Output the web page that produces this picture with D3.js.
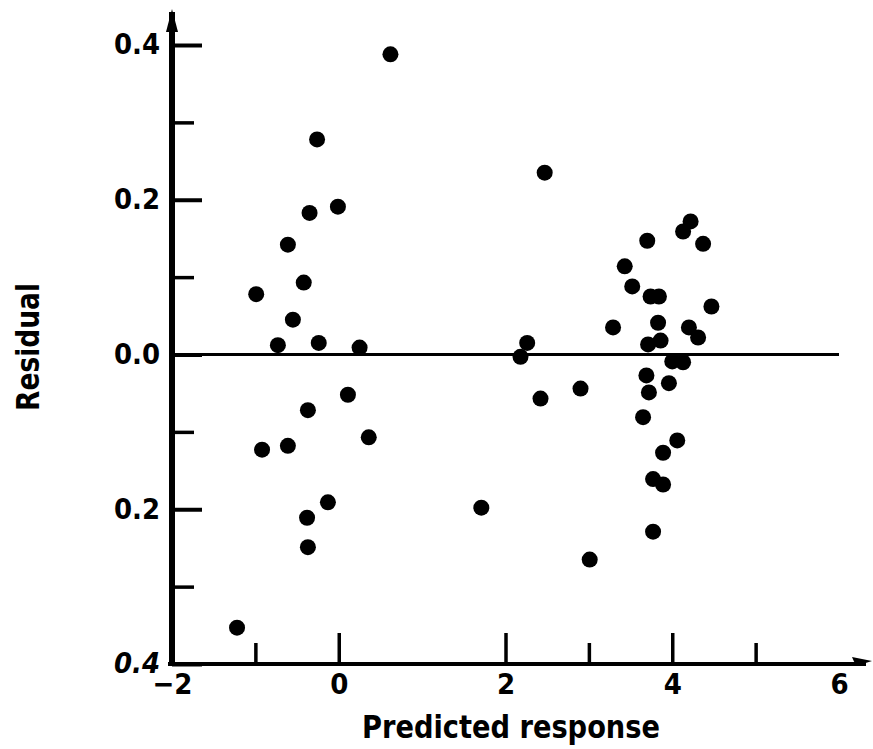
<!DOCTYPE html>
<html>
<head>
<meta charset="utf-8">
<script src="https://cdn.jsdelivr.net/npm/d3@7"></script>
<style>
  html, body { margin: 0; padding: 0; background: #fff; }
  svg { display: block; }
  text { font-family: "DejaVu Sans Condensed", "Liberation Sans Narrow", "DejaVu Sans", sans-serif; font-weight: bold; font-stretch: condensed; fill: #000; }
</style>
</head>
<body>
<svg id="chart" width="873" height="749"></svg>
<script>
// Predicted response (x) and residual (y) values
const predicted = [
  0.62, -0.26, -0.01, -0.35, -0.61, -0.42, -0.99, -0.55, -0.73, -0.24, 0.25,
  0.11, -0.37, 0.36, -0.92, -0.61, -0.13, -0.38, -0.37, -1.22,
  2.47, 4.22, 4.13, 3.70, 4.37, 3.43, 3.52, 3.74, 3.84, 4.47, 3.29, 3.83,
  4.20, 4.31, 3.86, 3.71, 2.26, 2.18, 4.00, 4.13, 3.69, 3.96, 2.90, 3.72,
  2.42, 3.65, 4.06, 3.89, 3.77, 3.89, 1.71, 3.77, 3.01
];
const residual = [
  0.388, 0.278, 0.191, 0.183, 0.142, 0.093, 0.078, 0.045, 0.012, 0.015, 0.009,
  -0.052, -0.072, -0.107, -0.123, -0.118, -0.191, -0.211, -0.249, -0.353,
  0.235, 0.172, 0.159, 0.147, 0.143, 0.114, 0.088, 0.075, 0.075, 0.062, 0.035, 0.041,
  0.035, 0.022, 0.018, 0.013, 0.015, -0.003, -0.009, -0.010, -0.027, -0.037, -0.044, -0.049,
  -0.057, -0.081, -0.111, -0.127, -0.161, -0.168, -0.198, -0.229, -0.265
];

const xLabelTicks = [-2, 0, 2, 4, 6];
const xLabels = ["\u22122", "0", "2", "4", "6"];
const xMajorMarks = [0, 2, 4];
const xMinorMarks = [-1, 3, 5];
const yMajorTicks = [0.4, 0.2, 0.0, -0.2, -0.4];
const yMajorLabels = ["0.4", "0.2", "0.0", "0.2", "0.4"];
const yMinorTicks = [0.3, 0.1, -0.1, -0.3];
const xTitle = "Predicted response";
const yTitle = "Residual";

const svg = d3.select("#chart");
const x = d3.scaleLinear().domain([-2, 6]).range([172, 839]);
const y = d3.scaleLinear().domain([-0.4, 0.4]).range([664, 45]);

// zero reference line
svg.append("line")
  .attr("x1", x(-2)).attr("x2", x(6))
  .attr("y1", y(0)).attr("y2", y(0))
  .attr("stroke", "#000").attr("stroke-width", 3);

// Y axis: major ticks with labels
const yMajor = svg.append("g").attr("transform", `translate(${x(-2)},0)`)
  .call(d3.axisLeft(y).tickValues(yMajorTicks).tickSize(-30).tickSizeOuter(0).tickPadding(12)
    .tickFormat((d, i) => yMajorLabels[i]));
yMajor.select(".domain").remove();
yMajor.selectAll(".tick line").attr("stroke", "#000").attr("stroke-width", 4);
yMajor.selectAll(".tick text").attr("font-size", 28).attr("fill", "#000")
  .attr("textLength", 46).attr("lengthAdjust", "spacingAndGlyphs")
  .attr("font-style", (d) => d === -0.4 ? "italic" : null);

const yMinor = svg.append("g").attr("transform", `translate(${x(-2)},0)`)
  .call(d3.axisLeft(y).tickValues(yMinorTicks).tickSize(-22).tickSizeOuter(0).tickFormat(""));
yMinor.select(".domain").remove();
yMinor.selectAll(".tick line").attr("stroke", "#000").attr("stroke-width", 3.5);

// X axis: labels
const xLab = svg.append("g").attr("transform", `translate(0,${y(-0.4)})`)
  .call(d3.axisBottom(x).tickValues(xLabelTicks).tickSize(0).tickSizeOuter(0).tickPadding(9)
    .tickFormat((d, i) => xLabels[i]));
xLab.select(".domain").remove();
xLab.selectAll(".tick text").attr("font-size", 29).attr("fill", "#000");

// X axis: tick marks
const xMajor = svg.append("g").attr("transform", `translate(0,${y(-0.4)})`)
  .call(d3.axisBottom(x).tickValues(xMajorMarks).tickSize(-31).tickSizeOuter(0).tickFormat(""));
xMajor.select(".domain").remove();
xMajor.selectAll(".tick line").attr("stroke", "#000").attr("stroke-width", 3.5);

const xMinor = svg.append("g").attr("transform", `translate(0,${y(-0.4)})`)
  .call(d3.axisBottom(x).tickValues(xMinorMarks).tickSize(-21).tickSizeOuter(0).tickFormat(""));
xMinor.select(".domain").remove();
xMinor.selectAll(".tick line").attr("stroke", "#000").attr("stroke-width", 3.5);

// axis lines with arrowheads
svg.append("line")
  .attr("x1", x(-2)).attr("x2", x(-2))
  .attr("y1", 12).attr("y2", y(-0.4) + 2)
  .attr("stroke", "#000").attr("stroke-width", 6);
svg.append("path")
  .attr("d", `M${x(-2) - 6},32 L${x(-2)},9 L${x(-2) + 6},32 Z`)
  .attr("fill", "#000");

svg.append("line")
  .attr("x1", x(-2) - 4).attr("x2", 866)
  .attr("y1", y(-0.4)).attr("y2", y(-0.4))
  .attr("stroke", "#000").attr("stroke-width", 4);
svg.append("path")
  .attr("d", `M852,${y(-0.4) - 7} L872,${y(-0.4) - 3} L856,${y(-0.4) + 2} Z`)
  .attr("fill", "#000");

// points
svg.append("g").selectAll("circle")
  .data(predicted.map((p, i) => ({ p, r: residual[i] })))
  .join("circle")
  .attr("cx", d => x(d.p))
  .attr("cy", d => y(d.r))
  .attr("r", 8)
  .attr("fill", "#000");

// titles
svg.append("text")
  .attr("x", 511).attr("y", 738)
  .attr("text-anchor", "middle")
  .attr("font-size", 32)
  .attr("textLength", 298).attr("lengthAdjust", "spacingAndGlyphs")
  .text(xTitle);

svg.append("text")
  .attr("transform", "translate(39,347) rotate(-90)")
  .attr("text-anchor", "middle")
  .attr("font-size", 32)
  .attr("textLength", 128).attr("lengthAdjust", "spacingAndGlyphs")
  .text(yTitle);
</script>
</body>
</html>
